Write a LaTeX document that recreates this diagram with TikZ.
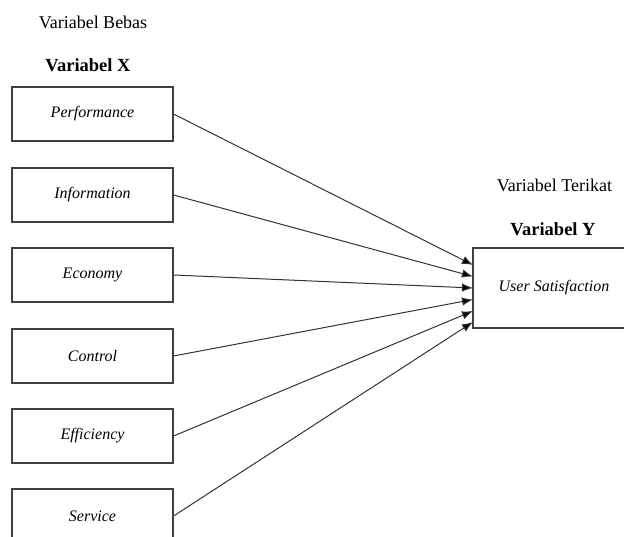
\documentclass[tikz,border=0pt]{standalone}
\usepackage{fontspec}
\setmainfont{Liberation Serif}
\usetikzlibrary{arrows.meta,positioning}

\tikzset{
  varbox/.style={draw=black!75,line width=1.1pt,minimum width=161pt,minimum height=54pt,inner sep=0pt,font=\fontsize{16}{19}\selectfont\itshape},
  label/.style={font=\fontsize{18}{21}\selectfont},
  head/.style={font=\fontsize{18.5}{22}\selectfont\bfseries},
  conn/.style={draw=black!80,line width=1pt,-{Latex[length=11pt,width=8.5pt,fill=black]}}
}

\begin{document}
\begin{tikzpicture}[x=1pt,y=-1pt]
        \useasboundingbox (0,0) rectangle (624,537);
        \clip (0,0) rectangle (624,537);

        \node[label] (bebas) at (93,22) {Variabel Bebas};
        \node[head] (varx) at (88,65) {Variabel X};
        \node[label] (terikat) at (554.5,185) {Variabel Terikat};
        \node[head] (vary) at (553,229) {Variabel Y};

        \node[varbox] (perf) at (92.5,114) {Performance};
        \node[varbox] (info) at (92.5,195) {Information};
        \node[varbox] (econ) at (92.5,275) {Economy};
        \node[varbox] (ctrl) at (92.5,356) {Control};
        \node[varbox] (effi) at (92.5,436) {Efficiency};
        \node[varbox] (serv) at (92.5,516) {Service};
        \node[varbox,minimum width=162pt,minimum height=80pt] (user) at (554,288) {User Satisfaction};

        \coordinate (t1) at (473,265);
        \coordinate (t2) at (473,276.5);
        \coordinate (t3) at (473,288);
        \coordinate (t4) at (473,299.5);
        \coordinate (t5) at (473,311);
        \coordinate (t6) at (473,322);

        \draw[conn] (perf.east) -- (t1);
        \draw[conn] (info.east) -- (t2);
        \draw[conn] (econ.east) -- (t3);
        \draw[conn] (ctrl.east) -- (t4);
        \draw[conn] (effi.east) -- (t5);
        \draw[conn] (serv.east) -- (t6);
      \end{tikzpicture}
\end{document}
